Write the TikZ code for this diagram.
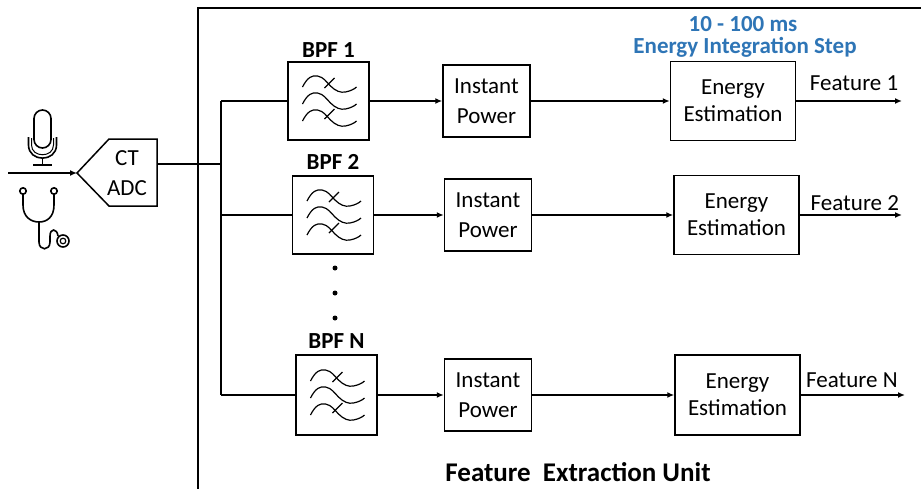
\documentclass[tikz,border=0pt]{standalone}
\usepackage{fontspec}
\setmainfont{Carlito}
\usetikzlibrary{arrows.meta}
\usepackage{xcolor}
\definecolor{stepblue}{HTML}{2E75B6}

\tikzset{
  block/.style={draw, line width=1.5pt, align=center, inner sep=0pt, font=\fontsize{23}{29}\selectfont},
  bpfbox/.style={block, minimum width=81pt, minimum height=78pt},
  ipbox/.style={block, minimum width=87pt, minimum height=72pt, font=\fontsize{23}{30}\selectfont},
  eebox/.style={block, minimum width=125pt, minimum height=79pt, font=\fontsize{23}{27}\selectfont},
  bpflabel/.style={font=\bfseries\fontsize{23}{24}\selectfont},
  featlabel/.style={midway, above, font=\fontsize{23}{24}\selectfont},
  steptext/.style={text=stepblue, inner sep=0pt, anchor=base, font=\bfseries\fontsize{23}{24}\selectfont},
  icon/.style={line width=1.6pt},
  wire/.style={line width=1.5pt},
  arr/.style={wire, -{Latex[length=7pt,width=6pt]}},
}

% filter symbol inside a BPF box
\newcommand{\filtericon}[2]{%
  \begin{scope}[shift={(#1,#2)}, line width=1.2pt]
    \foreach \off in {-17,0,17}
      \draw (-26,\off+3) .. controls (-21,\off-7) and (-16,\off-9) .. (-11,\off-8)
        .. controls (-5,\off-7) and (-2,\off-2) .. (2,\off+2)
        .. controls (7,\off+7) and (12,\off+9) .. (17,\off+8)
        .. controls (22,\off+7) and (26,\off+5) .. (28,\off+3);
    \draw (-4,-13) -- (6,-23);
    \draw (-4,18) -- (6,8);
  \end{scope}}

\begin{document}
\begin{tikzpicture}[x=1pt,y=-1pt]
  \useasboundingbox (0,0) rectangle (921,488);

  %frame
  \draw[line width=2pt] (198,495) -- (198,8) -- (925,8);

  %microphone
  \draw[icon, rounded corners=8.5pt] (34,110) rectangle (51,148);
  \draw[icon] (28.5,137) -- (28.5,145) .. controls (28.5,162.5) and (56.5,162.5) .. (56.5,145) -- (56.5,137);
  \draw[line width=1pt] (31.5,138) -- (31.5,145) .. controls (31.5,158) and (53.5,158) .. (53.5,145) -- (53.5,138);
  \draw[icon] (42.5,158) -- (42.5,165);
  \draw[icon] (33,165) -- (52,165);

  %stethoscope
  \draw[icon] (23,191) circle (3.2pt);
  \draw[icon] (54,191) circle (3.2pt);
  \draw[icon] (23,194) -- (23,205) .. controls (23,217) and (31,222) .. (39,222);
  \draw[icon] (54,194) -- (54,205) .. controls (54,217) and (47,222) .. (39,222);
  \draw[icon] (39,222) -- (39,242) .. controls (39,251) and (50,251) .. (50,242) -- (50,236)
    .. controls (50,228) and (57,228) .. (58,236);
  \draw[icon] (63,241) circle (6pt);
  \draw[line width=1.2pt] (63,241) circle (2.8pt);

  %CT ADC
  \coordinate (in) at (8,173);
  \coordinate (adctip) at (77,173);
  \draw[line width=1.5pt] (adctip) -- (109,139) -- (157,139) -- (157,206) -- (109,206) -- cycle;
  \node[align=center, font=\fontsize{23}{30}\selectfont] (adc) at (127,173) {CT\\ADC};
  \coordinate (adcout) at (157,164);
  \draw[arr] (in) -- (adctip);

  %bus
  \coordinate (busin) at (221,164);
  \coordinate (bus1) at (221,101);
  \coordinate (bus2) at (221,215);
  \coordinate (busN) at (221,395);
  \draw[wire] (adcout) -- (busin);
  \draw[wire] (bus1) -- (busN);

  %band pass filters
  \node[bpfbox, label={[bpflabel]above:BPF 1}] (bpf1) at (328.5,101) {};
  \node[bpfbox, label={[bpflabel, yshift=2pt]above:BPF 2}] (bpf2) at (333,215) {};
  \node[bpfbox, minimum height=80pt, label={[bpflabel, yshift=2pt]above:BPF N}] (bpfN) at (336.5,395) {};
  \filtericon{328.5}{101}
  \filtericon{333}{215}
  \filtericon{336.5}{395}
  \draw[wire] (bus1) -- (bpf1.west);
  \draw[wire] (bus2) -- (bpf2.west);
  \draw[wire] (busN) -- (bpfN.west);

  %dots
  \fill (335,268) circle (2.5pt);
  \fill (335,293) circle (2.5pt);
  \fill (335,318) circle (2.5pt);

  %instant power
  \node[ipbox] (ip1) at (486.5,101) {Instant\\Power};
  \node[ipbox] (ip2) at (488,215) {Instant\\Power};
  \node[ipbox] (ipN) at (488,395) {Instant\\Power};
  \draw[arr] (bpf1.east) -- (ip1.west);
  \draw[arr] (bpf2.east) -- (ip2.west);
  \draw[arr] (bpfN.east) -- (ipN.west);

  %energy estimation
  \node[eebox] (ee1) at (733,101) {Energy\\Estimation};
  \node[eebox] (ee2) at (736.5,215) {Energy\\Estimation};
  \node[eebox, minimum height=80pt] (eeN) at (737.5,395) {Energy\\Estimation};
  \draw[arr] (ip1.east) -- (ee1.west);
  \draw[arr] (ip2.east) -- (ee2.west);
  \draw[arr] (ipN.east) -- (eeN.west);

  %features
  \coordinate (f1) at (902,101);
  \coordinate (f2) at (902,215);
  \coordinate (fN) at (905,395);
  \draw[arr] (ee1.east) -- (f1) node[featlabel, xshift=5pt, yshift=6pt] {Feature 1};
  \draw[arr] (ee2.east) -- (f2) node[featlabel, xshift=4pt] {Feature 2};
  \draw[arr] (eeN.east) -- (fN) node[featlabel, xshift=-1pt, yshift=3pt] {Feature N};

  %titles
  \node[steptext] (step1) at (743,31) {10 - 100 ms};
  \node[steptext] (step2) at (745,53) {Energy Integration Step};
  \node[font=\bfseries\fontsize{27}{28}\selectfont] (unit) at (578,472) {Feature\ \ Extraction Unit};
\end{tikzpicture}
\end{document}
